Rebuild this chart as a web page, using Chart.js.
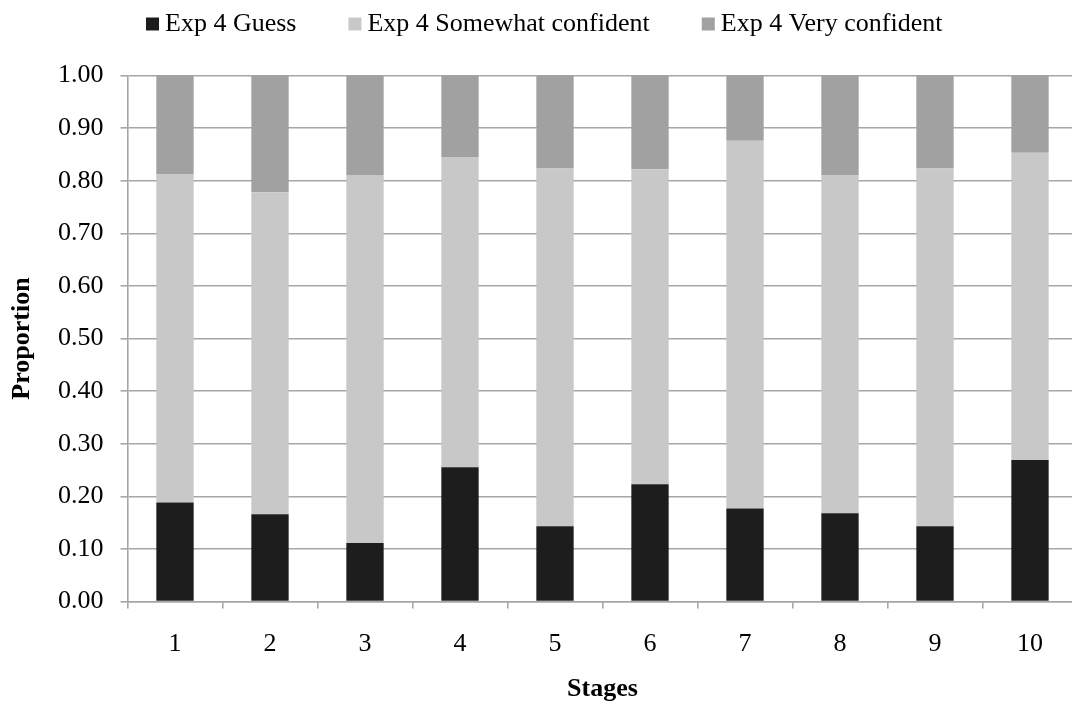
<!DOCTYPE html>
<html>
<head>
<meta charset="utf-8">
<script src="https://cdn.jsdelivr.net/npm/chart.js@4/dist/chart.umd.min.js"></script>
<style>
  html, body { margin: 0; padding: 0; background: #fff; overflow: hidden; width: 1072px; height: 706px; }
  #wrap { position: absolute; left: 0; top: 0; width: 1085px; height: 706px; }
</style>
</head>
<body>
<div id="wrap"><canvas id="chart" width="1085" height="706"></canvas></div>
<script>
// Stages on the x axis
const stages = ['1', '2', '3', '4', '5', '6', '7', '8', '9', '10'];

// Proportion of responses per confidence level, Experiment 4
const guess    = [0.188, 0.166, 0.111, 0.255, 0.143, 0.223, 0.177, 0.168, 0.143, 0.269];
const somewhat = [0.624, 0.612, 0.700, 0.590, 0.680, 0.599, 0.699, 0.643, 0.680, 0.584];
const very     = [0.188, 0.222, 0.189, 0.155, 0.177, 0.178, 0.124, 0.189, 0.177, 0.147];

const seriesNames = ['Exp 4 Guess', 'Exp 4 Somewhat confident', 'Exp 4 Very confident'];
const seriesColors = ['#1d1d1d', '#c8c8c8', '#a1a1a1'];

const FONT = '"Liberation Serif", "Times New Roman", Times, serif';
const GRID = '#a6a6a6';

// Legend row drawn across the top of the canvas
const topLegend = {
  id: 'topLegend',
  afterDraw(chart, args, opts) {
    const ctx = chart.ctx;
    ctx.save();
    ctx.font = opts.size + 'px ' + FONT;
    ctx.textBaseline = 'middle';
    ctx.textAlign = 'left';
    let x = opts.x;
    chart.data.datasets.forEach(ds => {
      ctx.fillStyle = ds.backgroundColor;
      ctx.fillRect(x, opts.y - opts.box / 2, opts.box, opts.box);
      x += opts.box + opts.textGap;
      ctx.fillStyle = '#000';
      ctx.fillText(ds.label, x, opts.y);
      x += ctx.measureText(ds.label).width + opts.itemGap;
    });
    ctx.restore();
  }
};

new Chart(document.getElementById('chart'), {
  type: 'bar',
  data: {
    labels: stages,
    datasets: [
      { label: seriesNames[0], data: guess,    backgroundColor: seriesColors[0] },
      { label: seriesNames[1], data: somewhat, backgroundColor: seriesColors[1] },
      { label: seriesNames[2], data: very,     backgroundColor: seriesColors[2] }
    ]
  },
  plugins: [topLegend],
  options: {
    responsive: false,
    animation: false,
    devicePixelRatio: 1,
    layout: { padding: { top: 75.5, right: 7.5, left: 0, bottom: 0 } },
    datasets: { bar: { categoryPercentage: 1.0, barPercentage: 0.393, borderWidth: 0 } },
    plugins: {
      legend: { display: false },
      tooltip: { enabled: false },
      topLegend: { x: 146, y: 24, box: 13, textGap: 6, itemGap: 52, size: 26 }
    },
    scales: {
      x: {
        stacked: true,
        offset: true,
        grid: { offset: true, drawOnChartArea: false, drawTicks: true, tickLength: 7, color: GRID, lineWidth: 1.6 },
        border: { display: true, color: GRID, width: 1.6 },
        ticks: { color: '#000', font: { family: FONT, size: 26 }, padding: 20, maxRotation: 0 },
        title: { display: true, text: 'Stages', color: '#000', font: { family: FONT, size: 26, weight: 'bold' }, padding: { top: 0, bottom: 1 } },
        afterFit(scale) { scale.height = 104.5; }
      },
      y: {
        stacked: true,
        min: 0,
        max: 1,
        ticks: {
          stepSize: 0.1,
          color: '#000',
          font: { family: FONT, size: 26 },
          padding: 17,
          callback: v => Number(v).toFixed(2)
        },
        grid: { drawTicks: true, tickLength: 7, color: GRID, lineWidth: 1.6 },
        border: { display: true, color: GRID, width: 1.6 },
        title: { display: true, text: 'Proportion', color: '#000', font: { family: FONT, size: 26, weight: 'bold' }, padding: { top: 7, bottom: 0 } },
        afterFit(scale) { scale.width = 127.5; }
      }
    }
  }
});
</script>
</body>
</html>
